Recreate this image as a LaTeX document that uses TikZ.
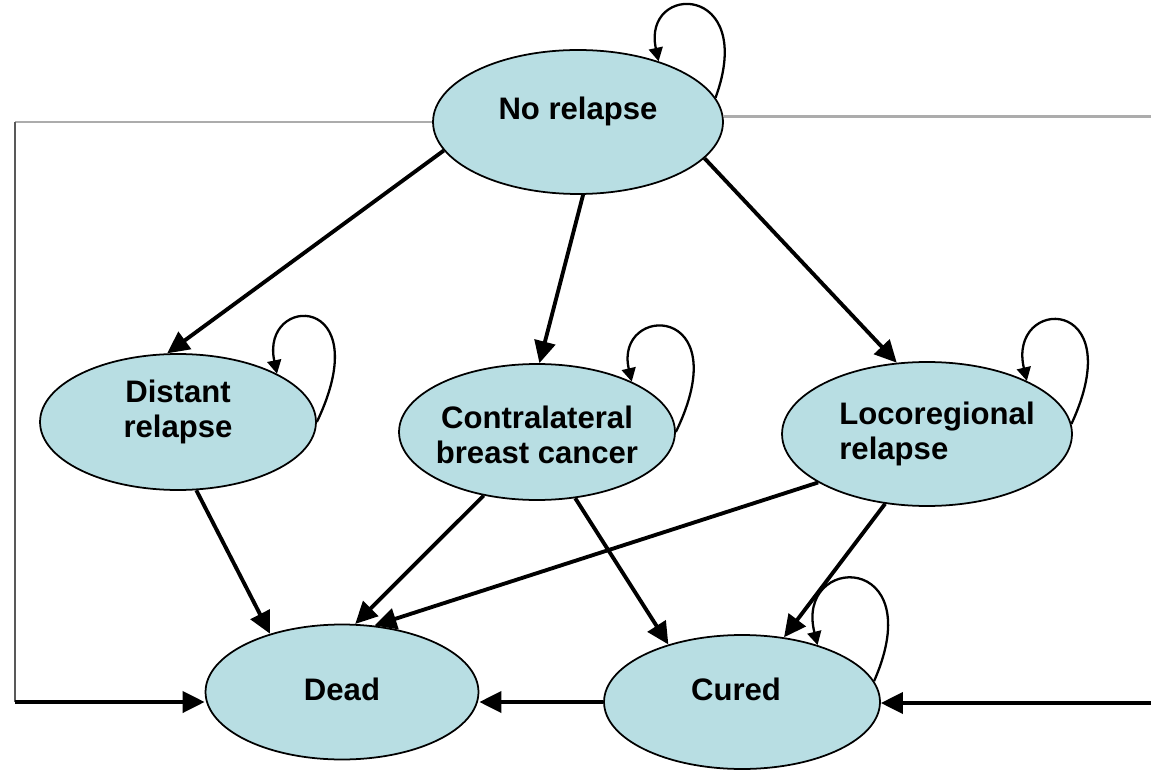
\documentclass[tikz,border=0pt]{standalone}
\usepackage{fontspec}
\setmainfont{Liberation Sans}
\usepackage{xcolor}
\usetikzlibrary{arrows.meta, shapes.geometric, calc}
\definecolor{stateblue}{RGB}{184,222,227}

\begin{document}
\begin{tikzpicture}[x=0.02cm, y=0.02cm,
    state/.style={ellipse, draw=black, line width=1pt, fill=stateblue, inner sep=0pt},
    lbl/.style={font=\fontsize{17.7}{19.5}\selectfont\bfseries, align=center},
    arr/.style={line width=2.2pt, -{Triangle[length=0.44cm, width=0.42cm]}},
    selfloop/.style={line width=1.3pt, -{Triangle[length=0.27cm, width=0.28cm]}},
    topline/.style={gray!65, line width=1.7pt},
    sideline/.style={black!65, line width=1.1pt}]
\useasboundingbox (0,0) rectangle (1151,771);
% === STATES ===
\node[state, minimum width=5.8cm, minimum height=2.88cm,
    label={[lbl, yshift=0.22cm]center:No relapse}] (nr) at (578,649) {};
\node[state, minimum width=5.52cm, minimum height=2.72cm,
    label={[lbl, yshift=0.2cm]center:{Distant\\relapse}}] (dist) at (178,349) {};
\node[state, minimum width=5.52cm, minimum height=2.72cm,
    label={[lbl, yshift=-0.06cm]center:{Contralateral\\breast cancer}}] (contra) at (537,339) {};
\node[state, minimum width=5.8cm, minimum height=2.88cm,
    label={[lbl, align=left, xshift=0.2cm]center:{Locoregional\\relapse}}] (loco) at (927,337) {};
\node[state, minimum width=5.46cm, minimum height=2.7cm,
    label={[lbl, yshift=0.06cm]center:Dead}] (dead) at (342,79) {};
\node[state, minimum width=5.52cm, minimum height=2.68cm,
    label={[lbl, xshift=-0.12cm, yshift=0.26cm]center:Cured}] (cured) at (742,69) {};
% === SELF LOOPS ===
\draw[selfloop] (nr.10) .. controls +(42,115) and +(-17,79) .. (nr.37);
\draw[selfloop] (dist.0) .. controls +(62,130) and +(-17,80) .. (dist.26);
\draw[selfloop] (contra.0) .. controls +(63,130) and +(-18,78) .. (contra.28);
\draw[selfloop] (loco.4) .. controls +(60,130) and +(-20,85) .. (loco.28);
\draw[selfloop] (cured.9) .. controls +(57,130) and +(-23,92) .. (cured.37);
% === TRANSITIONS ===
\draw[arr] (nr.192) -- (dist.99);
\draw[arr] (nr.274) -- (contra.88);
\draw[arr] (nr.344) -- (loco.113);
\draw[arr] (dist.285) -- (dead.141);
\draw[arr] (contra.230) -- (dead.79);
\draw[arr] (contra.300) -- (cured.142);
\draw[arr] (loco.204) -- (dead.64);
\draw[arr] (loco.239) -- (cured.57);
\draw[arr] (cured.west) -- (cured.west -| dead.east);
% === OUTER PATHS ===
\coordinate (lcorner) at (15,69);
\coordinate (rcorner) at (1151,68);
\draw[topline] (nr.180) -- (nr.180 -| lcorner);
\draw[sideline] (nr.180 -| lcorner) -- (lcorner);
\draw[arr] (lcorner) -- (lcorner -| dead.west);
\draw[topline] (nr.2) -- (nr.2 -| rcorner);
\draw[arr] (rcorner) -- (rcorner -| cured.east);
\end{tikzpicture}
\end{document}
